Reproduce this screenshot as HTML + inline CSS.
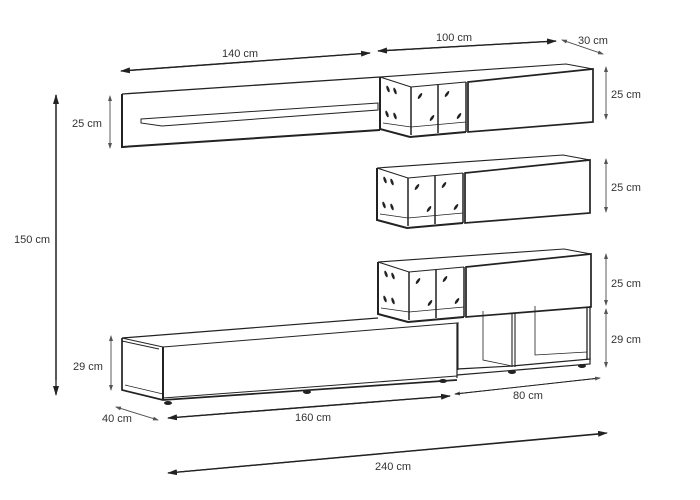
<!DOCTYPE html>
<html><head><style>
html,body{margin:0;padding:0;background:#fff;}
svg{display:block;}
text{font-family:"Liberation Sans",sans-serif;font-size:11px;fill:#333;}
</style></head><body>
<svg width="700" height="500" viewBox="0 0 700 500" xmlns="http://www.w3.org/2000/svg">
<defs>
<marker id="a" markerWidth="10" markerHeight="6" refX="9" refY="3" orient="auto" markerUnits="userSpaceOnUse"><path d="M0,0 L10,3 L0,6 z" fill="#222"/></marker>
<marker id="s" markerWidth="6" markerHeight="4" refX="5" refY="2" orient="auto" markerUnits="userSpaceOnUse"><path d="M0,0 L6,2 L0,4 z" fill="#555"/></marker>
<g id="unit" fill="none" stroke="#222">
<path d="M0,0 L186,-13 L213,-8" stroke-width="1.1"/>
<path d="M0,0 L0,52 L30,60 L86,55" stroke-width="2"/>
<path d="M0,0 L31,10 L86,5" stroke-width="1.1"/>
<path d="M31,10 L31,58 M86,5 L86,55 M58,8 L58,56" stroke-width="1.5"/>
<path d="M3,46 L31,50 L86,45" stroke-width="0.8"/>
<path d="M88,5 L213,-8 L213,45 L88,55 Z" stroke-width="1.7"/>
<g fill="#222" stroke="none">
<ellipse cx="8" cy="12" rx="1.3" ry="3.5" transform="rotate(-20 8 12)"/>
<ellipse cx="15" cy="14" rx="1.3" ry="3.5" transform="rotate(-20 15 14)"/>
<ellipse cx="7" cy="37" rx="1.3" ry="3.5" transform="rotate(-20 7 37)"/>
<ellipse cx="15" cy="39" rx="1.3" ry="3.5" transform="rotate(-20 15 39)"/>
<ellipse cx="40" cy="19" rx="1.3" ry="3.5" transform="rotate(35 40 19)"/>
<ellipse cx="67" cy="17" rx="1.3" ry="3.5" transform="rotate(35 67 17)"/>
<ellipse cx="52" cy="41" rx="1.3" ry="3.5" transform="rotate(35 52 41)"/>
<ellipse cx="79" cy="39" rx="1.3" ry="3.5" transform="rotate(35 79 39)"/>
</g>
</g>
</defs>

<g fill="none" stroke="#222">
<path d="M122,94 L380,77" stroke-width="1.3"/>
<path d="M122,94 L122,147 L380,130" stroke-width="2"/>
<path d="M141,119 L378,103 L378,110 L162,126 L141,123 Z" stroke-width="1"/>
</g>
<use href="#unit" x="380" y="77"/>
<use href="#unit" x="377" y="168"/>

<g fill="none" stroke="#222">
<path d="M458,322 L458,370" stroke-width="1"/>
<path d="M587,307 L587,360 M590,306 L590,360" stroke-width="1.3"/>
<path d="M512,313 L512,367 M515,313 L515,367" stroke-width="1.1"/>
<path d="M483,311 L483,360 L512,366 M535,306 L535,355 L587,352" stroke-width="0.8"/>
<path d="M457,369 L512,366 L590,359 L590,364 L457,375" stroke-width="1.2"/>
</g>
<g fill="#222"><ellipse cx="512" cy="372" rx="4" ry="2"/><ellipse cx="582" cy="366" rx="4" ry="2"/></g>
<use href="#unit" x="378" y="262"/>

<g fill="none" stroke="#222">
<path d="M122,338 L378,318 M457,323 L457,378" stroke-width="1.2"/>
<path d="M122,338 L122,390 L163,400 L457,380" stroke-width="1.7"/>
<path d="M122,338 L163,347 L457,323 M122,341 L159,349" stroke-width="1"/>
<path d="M163,347 L163,400" stroke-width="2"/>
<path d="M163,398 L457,376" stroke-width="1"/>
<path d="M125,385 L163,394" stroke-width="0.8"/>
</g>
<g fill="#222"><ellipse cx="168" cy="403" rx="4" ry="2"/><ellipse cx="307" cy="392" rx="4" ry="2"/><ellipse cx="443" cy="381" rx="4" ry="2"/></g>

<g stroke="#222" fill="none" stroke-width="1.3">
<path d="M370,53 L121,71" marker-end="url(#a)"/><path d="M121,71 L370,53" marker-end="url(#a)"/>
<path d="M556,41 L378,51" marker-end="url(#a)"/><path d="M378,51 L556,41" marker-end="url(#a)"/>
<path d="M56,380 L56,95" marker-end="url(#a)"/><path d="M56,95 L56,395" marker-end="url(#a)"/>
<path d="M450,396 L168,418" marker-end="url(#a)"/><path d="M168,418 L450,396" marker-end="url(#a)"/>
<path d="M600,378 L455,394" stroke-width="0.9" marker-end="url(#s)"/><path d="M455,394 L600,378" stroke-width="0.9" marker-end="url(#s)"/>
<path d="M600,434 L168,473" marker-end="url(#a)"/><path d="M168,473 L607,433" marker-end="url(#a)"/>
</g>
<g stroke="#555" fill="none" stroke-width="0.8">
<path d="M110,96 L110,148" marker-end="url(#s)"/><path d="M110,148 L110,96" marker-end="url(#s)"/>
<path d="M111,336 L111,390" marker-end="url(#s)"/><path d="M111,390 L111,336" marker-end="url(#s)"/>
<path d="M562,40 L603,54" marker-end="url(#s)"/><path d="M603,54 L562,40" marker-end="url(#s)"/>
<path d="M606,67 L606,119" marker-end="url(#s)"/><path d="M606,119 L606,67" marker-end="url(#s)"/>
<path d="M606,159 L606,212" marker-end="url(#s)"/><path d="M606,212 L606,159" marker-end="url(#s)"/>
<path d="M606,254 L606,305" marker-end="url(#s)"/><path d="M606,305 L606,254" marker-end="url(#s)"/>
<path d="M606,309 L606,367" marker-end="url(#s)"/><path d="M606,367 L606,309" marker-end="url(#s)"/>
<path d="M116,407 L158,420" marker-end="url(#s)"/><path d="M158,420 L116,407" marker-end="url(#s)"/>
</g>

<text x="222" y="57">140 cm</text>
<text x="436" y="41">100 cm</text>
<text x="578" y="44">30 cm</text>
<text x="72" y="127">25 cm</text>
<text x="14" y="243">150 cm</text>
<text x="73" y="370">29 cm</text>
<text x="611" y="98">25 cm</text>
<text x="611" y="191">25 cm</text>
<text x="611" y="287">25 cm</text>
<text x="611" y="343">29 cm</text>
<text x="102" y="422">40 cm</text>
<text x="295" y="421">160 cm</text>
<text x="513" y="399">80 cm</text>
<text x="375" y="470">240 cm</text>
</svg>
</body></html>
